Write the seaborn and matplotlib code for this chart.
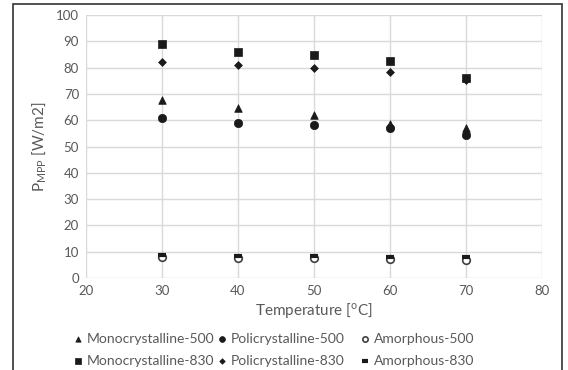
import matplotlib
matplotlib.use("Agg")
import matplotlib.pyplot as plt
import seaborn as sns
import pandas as pd
from matplotlib.patches import Rectangle

temps = [30, 40, 50, 60, 70]
mono_500 = [67.5, 64.5, 62.0, 58.5, 57.0]
poli_500 = [61.0, 59.0, 58.0, 57.0, 54.5]
amor_500 = [7.8, 7.6, 7.6, 7.2, 6.9]
mono_830 = [89.0, 86.0, 84.7, 82.5, 76.0]
poli_830 = [82.0, 81.0, 79.7, 78.5, 75.3]
amor_830 = [8.8, 8.5, 8.3, 8.1, 7.8]

x_ticks = [20, 30, 40, 50, 60, 70, 80]
y_ticks = [0, 10, 20, 30, 40, 50, 60, 70, 80, 90, 100]

sns.set_theme(style="white")
plt.rcParams['font.family'] = ['Lato', 'DejaVu Sans']
plt.rcParams['mathtext.default'] = 'regular'

dark = '#1a1a1a'
gray_txt = '#595959'
grid_c = '#d9d9d9'

W, H = 568, 370
fig = plt.figure(figsize=(W/100, H/100), dpi=100)
ax = fig.add_axes([86/W, 1-278/H, (542-86)/W, (278-15)/H])

series = [
    ("Monocrystalline-500", mono_500, dict(marker='^', s=30, color=dark, edgecolor=dark, linewidth=0.5)),
    ("Monocrystalline-830", mono_830, dict(marker='s', s=30, color=dark, edgecolor=dark, linewidth=0.5)),
    ("Policrystalline-500", poli_500, dict(marker='o', s=36, color=dark, edgecolor=dark, linewidth=0.5)),
    ("Policrystalline-830", poli_830, dict(marker='D', s=16, color=dark, edgecolor=dark, linewidth=0.5)),
    ("Amorphous-500", amor_500, dict(marker='o', s=30, color='white', edgecolor='#404040', linewidth=1.2)),
    ("Amorphous-830", amor_830, dict(marker='_', s=36, color=dark, linewidth=3)),
]

for name, vals, kw in series:
    df = pd.DataFrame({"T": temps, "P": vals})
    sns.scatterplot(data=df, x="T", y="P", ax=ax, label=name, zorder=3, **kw)

ax.set_xlim(20, 80)
ax.set_ylim(0, 100)
ax.set_xticks(x_ticks)
ax.set_yticks(y_ticks)
ax.grid(True, color=grid_c, linewidth=1)
ax.set_axisbelow(True)
for sp in ax.spines.values():
    sp.set_visible(False)
ax.tick_params(axis='both', length=0, labelsize=9.5, labelcolor=gray_txt, pad=5)
ax.set_xlabel("Temperature [$^{o}$C]", fontsize=11, color=gray_txt, labelpad=3)
ax.set_ylabel("P$_{MPP}$ [W/m2]", fontsize=11, color=gray_txt, labelpad=6)

h, l = ax.get_legend_handles_labels()
ax.get_legend().remove()
col_x = [75, 219, 362]
for i, x0 in enumerate(col_x):
    leg = fig.legend(h[2*i:2*i+2], l[2*i:2*i+2], ncol=1, loc='center left',
                     bbox_to_anchor=(x0/W, 1-350/H), frameon=False, fontsize=10,
                     labelcolor=gray_txt, handlelength=0.5, handletextpad=0.35,
                     borderpad=0, borderaxespad=0, labelspacing=0.72, markerscale=0.7)

fig.patches.append(Rectangle((13/W, -0.1), (562-13)/W, 1.1-4/H, transform=fig.transFigure,
                             fill=False, edgecolor='#333333', linewidth=1.2, zorder=10))

fig.savefig("out.png", dpi=100)
